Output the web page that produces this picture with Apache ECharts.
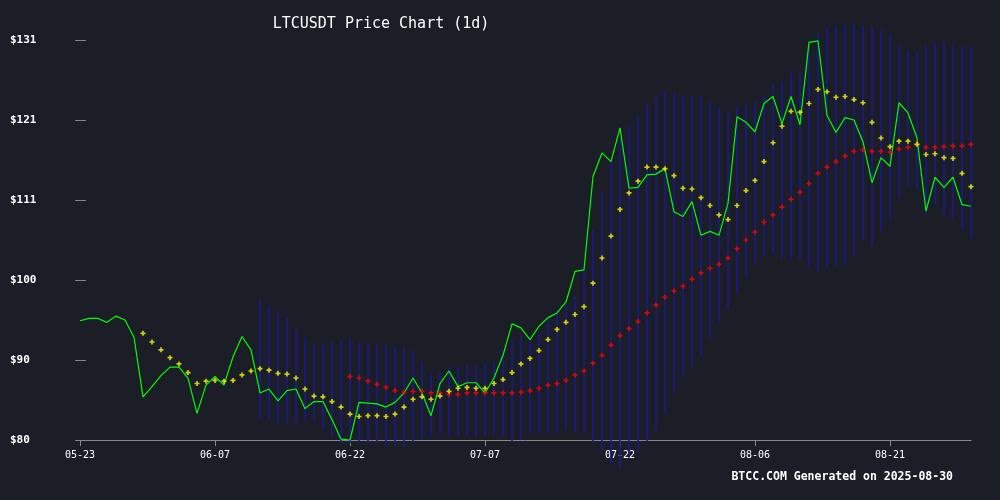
<!DOCTYPE html>
<html><head><meta charset="utf-8">
<script src="https://cdn.jsdelivr.net/npm/echarts@6/dist/echarts.min.js"></script>
<style>html,body{margin:0;padding:0;background:#1b1d27}#c{width:1000px;height:500px}</style>
</head><body><div id="c"></div>
<script>
const startDate = '2025-05-23';
const numDays = 100;
const dates = [];
(function(){const d=new Date(startDate+'T00:00:00Z');for(let i=0;i<numDays;i++){const t=new Date(d.getTime()+i*86400000);dates.push(String(t.getUTCMonth()+1).padStart(2,'0')+'-'+String(t.getUTCDate()).padStart(2,'0'));}})();

const price = [95.2,95.5,95.5,95.0,95.8,95.3,93.1,85.5,86.8,88.2,
89.3,89.3,87.9,83.4,87.0,88.1,87.0,90.6,93.2,91.5,
86.0,86.5,85.0,86.3,86.5,84.0,84.9,84.9,82.6,80.1,
80.0,84.8,84.7,84.6,84.2,84.8,86.0,87.9,86.0,83.1,
87.2,88.8,86.8,87.3,87.3,86.0,87.9,90.8,94.8,94.3,
92.8,94.5,95.6,96.2,97.6,101.5,101.7,113.6,116.6,115.5,
119.8,112.1,112.2,113.8,113.9,114.6,109.1,108.5,110.4,106.1,
106.6,106.1,110.2,121.2,120.5,119.3,122.9,123.8,120.3,123.8,
120.2,130.7,130.9,121.4,119.2,121.1,120.8,118.0,112.8,116.0,
114.9,123.0,121.7,118.5,109.2,113.5,112.2,113.5,110.0,109.8];

const maShort = [null,null,null,null,null,null,null,93.6,92.5,91.5,
90.5,89.7,88.6,87.2,87.5,87.6,87.5,87.6,88.3,88.8,
89.1,88.9,88.5,88.4,87.9,86.5,85.6,85.5,84.9,84.2,
83.3,83.0,83.1,83.1,83.0,83.3,84.2,85.2,85.5,85.2,
85.6,86.2,86.6,86.7,86.6,86.6,87.2,87.7,88.6,89.7,
90.4,91.4,92.8,94.1,95.0,96.0,97.0,100.0,103.2,106.0,
109.4,111.5,113.0,114.8,114.8,114.6,113.7,112.1,112.0,110.9,
109.9,108.7,108.1,109.9,111.8,113.1,115.5,117.9,120.0,121.9,
121.8,122.9,124.7,124.4,123.7,123.8,123.4,123.0,120.5,118.5,
117.4,118.1,118.1,117.7,116.4,116.5,116.0,115.9,114.0,112.3];

const maLong = [null,null,null,null,null,null,null,null,null,null,
null,null,null,null,null,null,null,null,null,null,
null,null,null,null,null,null,null,null,null,null,
88.1,87.9,87.5,87.1,86.7,86.3,86.1,86.2,86.2,86.0,
86.0,85.8,85.8,86.0,86.0,86.0,86.0,86.0,86.0,86.1,
86.3,86.6,87.0,87.2,87.6,88.3,88.8,89.8,90.8,92.1,
93.3,94.2,95.1,96.2,97.2,98.2,99.0,99.6,100.5,101.3,
101.9,102.4,103.2,104.4,105.5,106.5,107.8,108.7,109.7,110.7,
111.6,112.7,114.0,114.8,115.5,116.2,116.8,117.0,116.8,116.8,
116.7,117.1,117.3,117.7,117.3,117.3,117.4,117.5,117.5,117.7];

const bandUpper = [null,null,null,null,null,null,null,null,null,null,
null,null,null,null,null,null,null,null,null,null,
97.9,97.1,96.4,95.6,94.3,93.1,92.2,92.2,92.5,92.8,
93.0,92.6,92.3,92.3,92.2,91.9,91.9,91.4,89.9,88.6,
88.6,89.3,89.3,89.5,89.5,89.8,90.0,91.5,92.7,93.4,
92.9,93.6,95.7,96.6,97.4,98.3,101.7,106.8,111.5,115.7,
118.5,120.0,121.4,122.9,123.8,124.5,124.3,123.8,124.0,123.8,
123.1,122.5,121.9,122.5,122.7,123.1,123.9,125.3,125.7,126.8,
126.9,129.7,131.9,132.5,132.7,132.9,133.0,132.8,132.7,132.2,
131.6,130.2,129.7,129.5,130.4,130.6,130.6,130.4,130.2,130.1];

const bandLower = [null,null,null,null,null,null,null,null,null,null,
null,null,null,null,null,null,null,null,null,null,
82.6,82.6,82.1,82.1,82.1,82.6,82.4,81.3,80.4,79.6,
79.6,79.5,79.4,79.6,79.2,79.2,79.2,79.7,80.1,80.5,
80.8,80.5,80.5,80.5,80.5,80.6,80.6,80.4,79.8,80.0,
80.9,80.9,80.9,80.9,81.3,80.9,80.9,79.6,78.7,77.1,
76.4,77.9,78.5,79.8,81.3,83.4,86.0,88.1,89.3,90.6,
93.0,94.9,96.8,98.7,100.8,102.3,103.6,103.8,103.0,103.0,
103.0,101.9,101.5,101.9,102.1,102.3,103.6,105.5,104.9,106.6,
108.1,110.8,112.3,111.9,108.7,110.0,108.7,108.1,106.8,105.7];

const yTicks = {min:80, max:131, step:10.2};

const font = 'DejaVu Sans Mono';
const plus = 'path://M2,0H4V2H6V4H4V6H2V4H0V2H2Z';
const chart = echarts.init(document.getElementById('c'), null, {devicePixelRatio:1});
chart.setOption({
  backgroundColor:'#1b1d27',
  animation:false,
  title:{text:'LTCUSDT Price Chart (1d)',left:376,top:12,textAlign:'center',
    textStyle:{color:'#ffffff',fontFamily:font,fontSize:15,fontWeight:'normal'}},
  graphic:[{type:'text',right:47,top:471,style:{text:'BTCC.COM Generated on 2025-08-30',fill:'#ffffff',font:'bold 11.5px "DejaVu Sans Mono"'}}],
  grid:{left:80,right:29,top:40,bottom:60},
  xAxis:{type:'category',data:dates,boundaryGap:false,
    axisLine:{lineStyle:{color:'#888888',width:1}},
    axisTick:{interval:14,length:6,lineStyle:{color:'#888888'}},
    axisLabel:{interval:14,color:'#ffffff',fontFamily:font,fontSize:10,margin:10},
    splitLine:{show:false}},
  yAxis:{type:'value',min:yTicks.min,max:yTicks.max,interval:yTicks.step,offset:-6,
    axisLine:{show:false},
    axisTick:{show:true,length:11,lineStyle:{color:'#888888'}},
    splitLine:{show:false},
    axisLabel:{align:'left',margin:76,color:'#ffffff',fontFamily:font,fontWeight:'bold',fontSize:11,
      formatter:v=>'$'+Math.round(v)}},
  series:[
    {type:'custom',data:dates.map((d,i)=>[i,bandLower[i],bandUpper[i]]).filter(p=>p[1]!=null),
     renderItem:(params,api)=>{const a=api.coord([api.value(0),api.value(1)]);const b=api.coord([api.value(0),api.value(2)]);
       const x=Math.round(a[0]);
       return {type:'line',shape:{x1:x,y1:a[1],x2:x,y2:b[1]},style:{stroke:'#1a1a8e',lineWidth:1.6}};},
     encode:{x:0,y:[1,2]},z:1,silent:true},
    {type:'line',data:price,symbol:'none',lineStyle:{color:'#00ff00',width:1.2},z:3},
    {type:'scatter',data:maLong,symbol:plus,symbolSize:5,itemStyle:{color:'#ff0000'},z:4},
    {type:'scatter',data:maShort,symbol:plus,symbolSize:5,itemStyle:{color:'#ffff00'},z:5}
  ]
});
</script></body></html>
